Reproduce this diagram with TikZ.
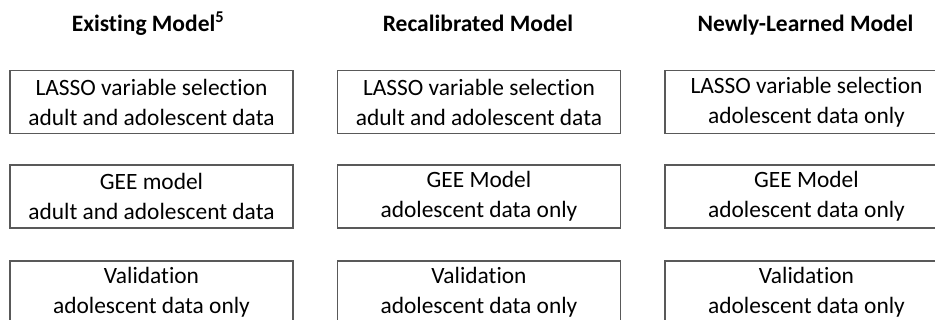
\documentclass[tikz,border=0pt]{standalone}
\usepackage{fontspec}
\setmainfont[Ligatures=NoCommon]{Carlito}
\begin{document}
\begin{tikzpicture}[x=1pt,y=1pt,
  stagebox/.style={draw=black!65, line width=1.2pt, minimum width=283pt, minimum height=63pt,
    inner sep=0pt, align=center, font=\fontsize{23.4}{30}\selectfont},
  colhead/.style={font=\fontsize{23.5}{26}\selectfont\bfseries, anchor=base}]
\useasboundingbox (0,0) rectangle (935,-320);
\clip (0,0) rectangle (935,-320);
% column headers
\node[colhead] (h1) at (148,-32) {Existing Model\textsuperscript{5}};
\node[colhead] (h2) at (478,-32) {Recalibrated Model};
\node[colhead] (h3) at (805.5,-32) {Newly-Learned Model};
% column 1
\node[stagebox] (a1) at (151.5,-102) {LASSO variable selection\\adult and adolescent data};
\node[stagebox] (a2) at (151.5,-196.5) {GEE model\\adult and adolescent data};
\node[stagebox] (a3) at (151.5,-292.5) {Validation\\adolescent data only};
% column 2
\node[stagebox] (b1) at (479,-102) {LASSO variable selection\\adult and adolescent data};
\node[stagebox] (b2) at (479,-196.5) {GEE Model\\adolescent data only};
\node[stagebox] (b3) at (479,-292.5) {Validation\\adolescent data only};
% column 3
\node[stagebox] (c1) at (806.5,-102) {LASSO variable selection\\adolescent data only};
\node[stagebox] (c2) at (806.5,-196.5) {GEE Model\\adolescent data only};
\node[stagebox] (c3) at (806.5,-292.5) {Validation\\adolescent data only};
\end{tikzpicture}
\end{document}
